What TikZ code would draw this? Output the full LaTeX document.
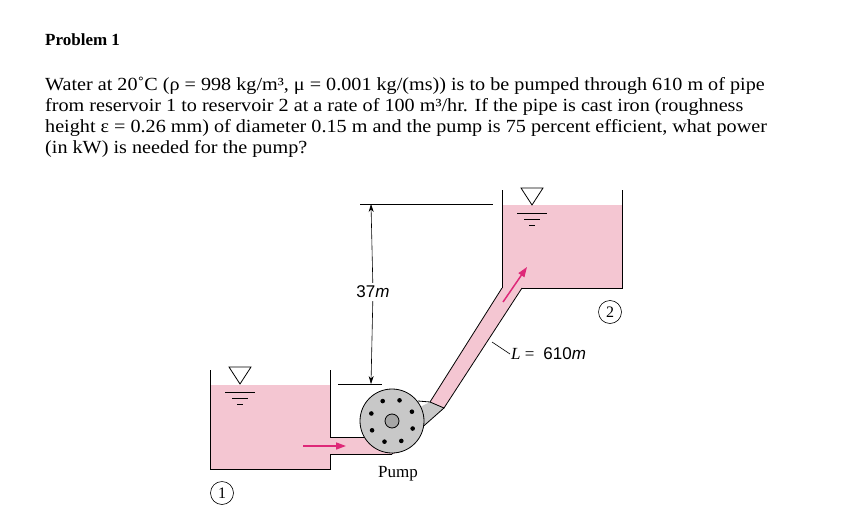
\documentclass[tikz,border=0pt]{standalone}
\usepackage{fontspec}
\setmainfont{Liberation Serif}
\newfontfamily\helv{Liberation Sans}
\newfontfamily\widetext[FakeStretch=1.09]{Liberation Serif}
\usetikzlibrary{arrows.meta,positioning}
\definecolor{waterpink}{RGB}{244,198,210}
\definecolor{pumpgray}{RGB}{200,200,200}
\definecolor{flowmag}{RGB}{222,40,120}
\tikzset{
  wall/.style={draw=black, line width=0.8pt},
  txtline/.style={anchor=west, inner sep=0pt, font=\widetext\fontsize{18.5}{20}\selectfont},
  flowarrow/.style={draw=flowmag, line width=1.5pt, -{Triangle[length=10pt,width=7pt]}},
  dimline/.style={line width=0.6pt},
  stationno/.style={circle, draw, line width=0.6pt, inner sep=1pt, minimum size=23pt, font=\fontsize{16}{16}\selectfont}
}
\begin{document}
\begin{tikzpicture}[x=1pt,y=-1pt]
    \useasboundingbox (0,0) rectangle (848,527);
    % Problem text
    \node [anchor=west, inner sep=0pt, font=\bfseries\fontsize{17}{18}\selectfont] (title) at (45,40) {Problem 1};
    \node [txtline] (l1) at (45,86) {Water at 20˚C (ρ = 998 kg/m³, μ = 0.001 kg/(ms)) is to be pumped through 610 m of pipe};
    \node [txtline] (l2) at (45,107) {from reservoir 1 to reservoir 2 at a rate of 100 m³/hr. If the pipe is cast iron (roughness};
    \node [txtline] (l3) at (45,128) {height ε = 0.26 mm) of diameter 0.15 m and the pump is 75 percent efficient, what power};
    \node [txtline] (l4) at (45,149) {(in kW) is needed for the pump?};

    % Reservoir 1
    \fill [waterpink] (210,385) rectangle (330,469);
    \draw [wall] (210,370) -- (210,469) -- (330,469) -- (330,454);
    \draw [wall] (330,437) -- (330,370);
    % Reservoir 2
    \fill [waterpink] (502,205) rectangle (622,288);
    \draw [wall] (502,190) -- (502,288);
    \draw [wall] (622,190) -- (622,288) -- (522,288);
    % Inlet pipe
    \fill [waterpink] (330,437) rectangle (395,454);
    \draw [wall] (330,437) -- (370,437);
    \draw [wall] (330,454) -- (392,454);
    % Outlet pipe
    \fill [waterpink] (430,402) -- (502,288) -- (522,288) -- (444,408) -- cycle;
    \draw [wall] (430,402) -- (502,288);
    \draw [wall] (444,408) -- (522,288);
    % Pump
    \coordinate (pc) at (392,421);
    \fill [pumpgray] (392,454) -- (444,408) -- (430,402) -- (392,421) -- cycle;
    \draw [wall] (392,454) -- (444,408) -- (430,402) -- (418,401);
    \draw [wall, fill=pumpgray] (pc) circle (32);
    \draw [wall, fill=gray!70] (pc) circle (7);
    \foreach \a in {20,65,110,155,200,245,290,335}
        \fill (pc) ++(\a:22) circle (2.3);
    \node [font=\fontsize{17}{17}\selectfont] (pumplbl) at (398,474) {Pump};

    % Free surfaces
    \foreach \xs/\ys/\nm in {240/384/fs1, 532/205/fs2} {
        \coordinate (\nm) at (\xs,\ys);
        \draw [wall] (\nm) -- ++(-11,-17) -- ++(22,0) -- cycle;
        \draw [wall] (\nm) ++(-15,8) -- ++(30,0);
        \draw [wall] (\nm) ++(-8,14) -- ++(16,0);
        \draw [wall] (\nm) ++(-3,20) -- ++(6,0);
    }

    % Flow arrows
    \coordinate (fa1) at (303,446);
    \coordinate (fb1) at (346,446);
    \draw [flowarrow] (fa1) -- (fb1);
    \coordinate (fa2) at (503,302);
    \coordinate (fb2) at (527,267);
    \draw [flowarrow] (fa2) -- (fb2);

    % Elevation dimension
    \coordinate (dtop) at (371,204);
    \coordinate (dbot) at (371,384);
    \draw [dimline] (360,204) -- (493,204);
    \draw [dimline] (338,384) -- (382,384);
    \node [fill=white, inner sep=3pt, font=\helv\fontsize{17}{17}\selectfont] (hlbl) at (373,292) {37\textit{m}};
    \draw [dimline, -{Stealth[length=8pt,width=5pt]}] (hlbl) -- (dtop);
    \draw [dimline, -{Stealth[length=8pt,width=5pt]}] (hlbl) -- (dbot);

    % Pipe length
    \node [anchor=west, inner sep=1pt, font=\fontsize{17}{17}\selectfont] (llbl) at (510,354) {\textit{L} = \helv\ 610\textit{m}};
    \coordinate (lpipe) at (492,342);
    \draw [dimline] (lpipe) -- (llbl.west);

    % Stations
    \node [stationno] (st1) at (222,493) {1};
    \node [stationno] (st2) at (610,312) {2};
\end{tikzpicture}
\end{document}
